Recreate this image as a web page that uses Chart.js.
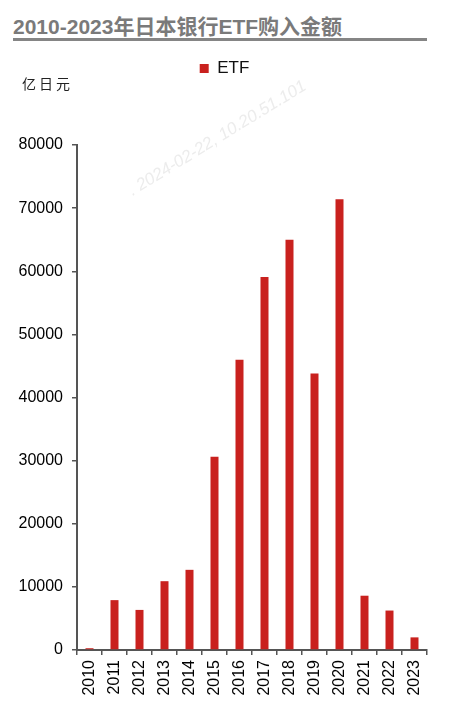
<!DOCTYPE html>
<html>
<head>
<meta charset="utf-8">
<script src="https://cdn.jsdelivr.net/npm/chart.js@4/dist/chart.umd.min.js"></script>
<style>
  body { margin: 0; background: #fff; }
  #wrap { position: relative; width: 449px; height: 717px; }
  #title {
    position: absolute; left: 13px; top: 10px;
    font: bold 21px 'Liberation Sans', 'Noto Sans CJK SC', sans-serif;
    color: #7a7a7a; white-space: nowrap;
  }
  #rule { position: absolute; left: 13px; top: 38px; width: 414px; height: 3px; background: #858585; }
  canvas { position: absolute; left: 0; top: 0; }
</style>
</head>
<body>
<div id="wrap">
  <div id="title">2010-2023年日本银行ETF购入金额</div>
  <div id="rule"></div>
  <canvas id="etf-chart" width="449" height="717"></canvas>
</div>
<script>
// 数据 (亿日元)
const years = ['2010', '2011', '2012', '2013', '2014', '2015', '2016', '2017', '2018', '2019', '2020', '2021', '2022', '2023'];
const etfBuy = [280, 7900, 6350, 10900, 12700, 30600, 46000, 59100, 65000, 43800, 71400, 8600, 6250, 2000];
const yTicks = [0, 10000, 20000, 30000, 40000, 50000, 60000, 70000, 80000];
const unitLabel = '亿日元';
const watermark = '. 2024-02-22, 10.20.51.101';

const axisColor = '#555';
const tickFont = { family: "'Liberation Sans', Arial, sans-serif", size: 16 };

// 单位 + 水印
const extras = {
  id: 'extras',
  beforeInit(chart) {
    const lg = chart.legend;
    const fit = lg.fit;
    lg.fit = function() {
      fit.bind(lg)();
      this.height = 95;
    };
    const draw = lg.draw;
    lg.draw = function() {
      chart.ctx.save();
      chart.ctx.translate(11, 0);
      draw.bind(lg)();
      chart.ctx.restore();
    };
  },
  afterDraw(chart) {
    const ctx = chart.ctx;
    ctx.save();
    ctx.fillStyle = '#222';
    ctx.font = "14px 'Noto Sans CJK SC', sans-serif";
    ctx.letterSpacing = '3px';
    ctx.textBaseline = 'middle';
    ctx.fillText(unitLabel, 22, 84);
    ctx.letterSpacing = '0px';
    ctx.translate(130, 192);
    ctx.rotate(-0.55);
    ctx.font = "italic 17px 'Liberation Sans', sans-serif";
    ctx.fillStyle = 'rgba(200,200,200,0.35)';
    ctx.fillText(watermark, 0, 0);
    ctx.restore();
  }
};

new Chart(document.getElementById('etf-chart'), {
  type: 'bar',
  data: {
    labels: years,
    datasets: [{
      label: 'ETF',
      data: etfBuy,
      backgroundColor: '#c9211e',
      categoryPercentage: 1,
      barPercentage: 0.32
    }]
  },
  options: {
    responsive: false,
    animation: false,
    devicePixelRatio: 1,
    layout: { padding: { left: 0, right: 22, top: 50, bottom: 0 } },
    plugins: {
      legend: {
        display: true,
        position: 'top',
        labels: {
          color: '#111',
          font: { family: tickFont.family, size: 17 },
          boxWidth: 9,
          boxHeight: 9,
          padding: 10
        }
      },
      tooltip: { enabled: false }
    },
    scales: {
      x: {
        grid: {
          offset: true,
          drawOnChartArea: false,
          drawTicks: true,
          tickLength: 5,
          color: axisColor,
          lineWidth: 1.5
        },
        border: { color: axisColor, width: 2 },
        ticks: {
          color: '#000',
          font: tickFont,
          minRotation: 90,
          maxRotation: 90,
          padding: 5
        },
        afterFit(scale) { scale.height = 67; }
      },
      y: {
        min: 0,
        max: 80000,
        afterBuildTicks(scale) { scale.ticks = yTicks.map(v => ({ value: v })); },
        grid: {
          drawOnChartArea: false,
          drawTicks: true,
          tickLength: 5,
          color: axisColor,
          lineWidth: 1.5
        },
        border: { color: axisColor, width: 2 },
        ticks: {
          color: '#000',
          font: tickFont,
          padding: 9,
          callback: v => String(v)
        },
        afterFit(scale) { scale.width = 77; }
      }
    }
  },
  plugins: [extras]
});
</script>
</body>
</html>
